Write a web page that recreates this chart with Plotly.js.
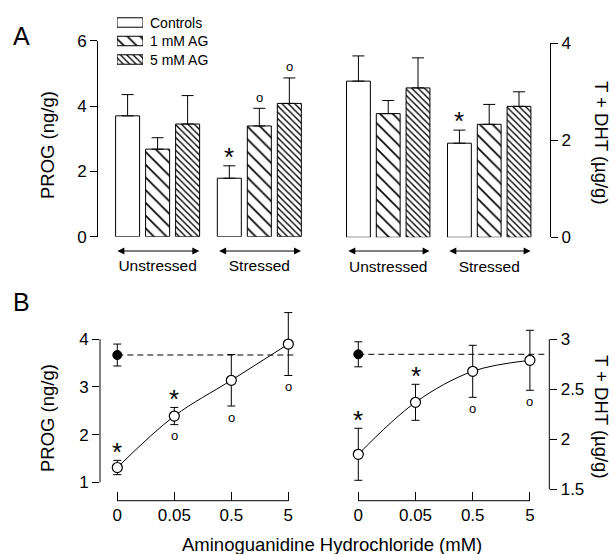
<!DOCTYPE html>
<html><head><meta charset="utf-8">
<script src="https://cdn.plot.ly/plotly-3.0.1.min.js"></script>
<style>html,body{margin:0;padding:0;background:#fff}#chart{width:614px;height:554px}</style>
</head><body><div id="chart"></div>
<script>
// ---------- data ----------
const groups = ['Unstressed', 'Stressed'];
const treatments = ['Controls', '1 mM AG', '5 mM AG'];

// Panel A, PROG (ng/g)
const progControls = [3.70, 1.79];
const progControlsSem = [0.65, 0.38];
const progAG1 = [2.68, 3.39];
const progAG1Sem = [0.35, 0.54];
const progAG5 = [3.45, 4.08];
const progAG5Sem = [0.87, 0.78];

// Panel A, T + DHT (µg/g)
const tdhtControls = [3.22, 1.94];
const tdhtControlsSem = [0.52, 0.27];
const tdhtAG1 = [2.55, 2.33];
const tdhtAG1Sem = [0.27, 0.41];
const tdhtAG5 = [3.08, 2.70];
const tdhtAG5Sem = [0.62, 0.30];

// significance marks in A: [treatmentIndex, groupIndex]
const progStars = [[0, 1]];
const progCircles = [[1, 1], [2, 1]];
const tdhtStars = [[0, 1]];
const tdhtCircles = [];

// Panel B
const doseLabels = ['0', '0.05', '0.5', '5'];
const progDose = [1.31, 2.39, 3.14, 3.90];
const progDoseSem = [0.15, 0.18, 0.54, 0.66];
const progUnstressed = [3.67];
const progUnstressedSem = [0.23];
const tdhtDose = [1.85, 2.37, 2.68, 2.79];
const tdhtDoseSem = [0.26, 0.18, 0.26, 0.30];
const tdhtUnstressed = [2.85];
const tdhtUnstressedSem = [0.125];
const progDoseStars = [0, 1];
const progDoseCircles = [1, 2, 3];
const tdhtDoseStars = [0, 1];
const tdhtDoseCircles = [2, 3];

// ---------- helpers ----------
const W = 614, H = 554;
const px = v => v / W;
const py = v => 1 - v / H;
const FONT = 'Liberation Sans, Arial, sans-serif';
const BARGAP = 0.115;
const slot = (1 - BARGAP) / 3;

const patterns = [
  null,
  {shape: '\\', size: 9, solidity: 0.18, fgcolor: 'black', bgcolor: 'white', fillmode: 'replace'},
  {shape: '\\', size: 4.5, solidity: 0.3, fgcolor: 'black', bgcolor: 'white', fillmode: 'replace'}
];

function barTrace(name, vals, sem, ti, xa, ya) {
  const m = {color: 'white', line: {color: 'black', width: 1}};
  if (patterns[ti]) m.pattern = patterns[ti];
  return {
    type: 'bar', name: name, x: groups, y: vals, xaxis: xa, yaxis: ya,
    marker: m, showlegend: false, hoverinfo: 'skip',
    error_y: {type: 'data', symmetric: false, array: sem, arrayminus: sem.map(() => 0),
      color: 'black', thickness: 1, width: 6}
  };
}

const traces = [
  barTrace('Controls', progControls, progControlsSem, 0, 'x', 'y'),
  barTrace('1 mM AG', progAG1, progAG1Sem, 1, 'x', 'y'),
  barTrace('5 mM AG', progAG5, progAG5Sem, 2, 'x', 'y'),
  barTrace('Controls', tdhtControls, tdhtControlsSem, 0, 'x2', 'y2'),
  barTrace('1 mM AG', tdhtAG1, tdhtAG1Sem, 1, 'x2', 'y2'),
  barTrace('5 mM AG', tdhtAG5, tdhtAG5Sem, 2, 'x2', 'y2')
];

// legend boxes as a tiny subplot
traces.push({
  type: 'bar', orientation: 'h', x: treatments.map(() => 1), y: treatments, base: 0,
  width: 0.51, xaxis: 'x5', yaxis: 'y5', showlegend: false, hoverinfo: 'skip', cliponaxis: false,
  marker: {color: 'white', line: {color: 'black', width: 1},
    pattern: {shape: ['', '\\', '\\'], size: [8, 9, 4.5], solidity: [0.2, 0.18, 0.3],
      fgcolor: 'black', bgcolor: 'white', fillmode: 'replace'}}
});

const doseX = doseLabels.map((d, i) => i);

function doseTraces(vals, sem, ctrl, ctrlSem, xa, ya) {
  return [
    {type: 'scatter', mode: 'lines+markers', x: doseX, y: vals, xaxis: xa, yaxis: ya,
      line: {shape: 'spline', smoothing: 1, color: 'black', width: 1},
      marker: {symbol: 'circle', size: 10, color: 'white', line: {color: 'black', width: 1.2}},
      error_y: {type: 'data', array: sem, color: 'black', thickness: 1, width: 4},
      showlegend: false, hoverinfo: 'skip', cliponaxis: false},
    {type: 'scatter', mode: 'markers', x: [0], y: ctrl, xaxis: xa, yaxis: ya,
      marker: {symbol: 'circle', size: 9, color: 'black', line: {color: 'black', width: 1}},
      error_y: {type: 'data', array: ctrlSem, color: 'black', thickness: 1, width: 4},
      showlegend: false, hoverinfo: 'skip', cliponaxis: false}
  ];
}
traces.push(...doseTraces(progDose, progDoseSem, progUnstressed, progUnstressedSem, 'x3', 'y3'));
traces.push(...doseTraces(tdhtDose, tdhtDoseSem, tdhtUnstressed, tdhtUnstressedSem, 'x4', 'y4'));

// ---------- annotations ----------
const ann = [];
const txt = (o) => Object.assign({showarrow: false, xanchor: 'center', yanchor: 'middle',
  font: {family: FONT, size: 17, color: 'black'}}, o);

ann.push(txt({text: 'A', xref: 'paper', yref: 'paper', x: px(21), y: py(36), font: {family: FONT, size: 25, color: 'black'}}));
ann.push(txt({text: 'B', xref: 'paper', yref: 'paper', x: px(21), y: py(302), font: {family: FONT, size: 25, color: 'black'}}));

ann.push(txt({text: 'PROG (ng/g)', xref: 'paper', yref: 'paper', x: px(48), y: py(145), textangle: -90, font: {family: FONT, size: 18.5, color: 'black'}}));
ann.push(txt({text: 'T + DHT (µg/g)', xref: 'paper', yref: 'paper', x: px(602), y: py(143), textangle: 90, font: {family: FONT, size: 18.5, color: 'black'}}));
ann.push(txt({text: 'PROG (ng/g)', xref: 'paper', yref: 'paper', x: px(47), y: py(418), textangle: -90, font: {family: FONT, size: 18.5, color: 'black'}}));
ann.push(txt({text: 'T + DHT (µg/g)', xref: 'paper', yref: 'paper', x: px(602), y: py(417), textangle: 90, font: {family: FONT, size: 18.5, color: 'black'}}));
ann.push(txt({text: 'Aminoguanidine Hydrochloride (mM)', xref: 'paper', yref: 'paper', x: px(332), y: py(544), font: {family: FONT, size: 18.5, color: 'black'}}));

// legend labels
treatments.forEach((t, i) => {
  ann.push(txt({text: t, xref: 'paper', yref: 'y5', x: px(148), y: t, xanchor: 'left', font: {family: FONT, size: 14, color: 'black'}}));
});

// group arrows under bars
['x', 'x2'].forEach((xa) => {
  groups.forEach((g, gi) => {
    ann.push({text: '', showarrow: true, xref: xa, yref: 'paper', x: gi + 0.41, y: py(251),
      axref: xa, ayref: 'pixel', ax: gi - 0.41, ay: 0, arrowside: 'end+start',
      arrowhead: 2, startarrowhead: 2, arrowsize: 1.4, startarrowsize: 1.4, arrowwidth: 1, arrowcolor: 'black'});
  });
});

// significance in A
const progSeries = [[progControls, progControlsSem], [progAG1, progAG1Sem], [progAG5, progAG5Sem]];
const tdhtSeries = [[tdhtControls, tdhtControlsSem], [tdhtAG1, tdhtAG1Sem], [tdhtAG5, tdhtAG5Sem]];
function sigA(series, stars, circles, xa, ya) {
  stars.forEach(([ti, gi]) => {
    ann.push(txt({text: '*', xref: xa, yref: ya, x: gi + (ti - 1) * slot, y: series[ti][0][gi] + series[ti][1][gi],
      yshift: 9, font: {family: FONT, size: 26, color: 'black'}}));
  });
  circles.forEach(([ti, gi]) => {
    ann.push(txt({text: 'o', xref: xa, yref: ya, x: gi + (ti - 1) * slot, y: series[ti][0][gi] + series[ti][1][gi],
      yshift: 11, font: {family: FONT, size: 13, color: 'black'}}));
  });
}
sigA(progSeries, progStars, progCircles, 'x', 'y');
sigA(tdhtSeries, tdhtStars, tdhtCircles, 'x2', 'y2');

function sigB(vals, sem, stars, circles, xa, ya) {
  stars.forEach(i => ann.push(txt({text: '*', xref: xa, yref: ya, x: i, y: vals[i] + sem[i],
    yshift: 8, font: {family: FONT, size: 26, color: 'black'}})));
  circles.forEach(i => ann.push(txt({text: 'o', xref: xa, yref: ya, x: i, y: vals[i] - sem[i],
    yshift: -11, font: {family: FONT, size: 13, color: 'black'}})));
}
sigB(progDose, progDoseSem, progDoseStars, progDoseCircles, 'x3', 'y3');
sigB(tdhtDose, tdhtDoseSem, tdhtDoseStars, tdhtDoseCircles, 'x4', 'y4');

// ---------- shapes (axis lines for B, reference lines) ----------
const shapes = [
  {type: 'line', xref: 'paper', yref: 'y3', x0: px(100), x1: px(100), y0: 1, y1: 4, line: {color: 'black', width: 1}},
  {type: 'line', xref: 'x3', yref: 'paper', x0: 0, x1: doseLabels.length - 1, y0: py(500.7), y1: py(500.7), line: {color: 'black', width: 1}},
  {type: 'line', xref: 'paper', yref: 'y4', x0: px(549.3), x1: px(549.3), y0: 1.5, y1: 3, line: {color: 'black', width: 1}},
  {type: 'line', xref: 'x4', yref: 'paper', x0: 0, x1: doseLabels.length - 1, y0: py(500.7), y1: py(500.7), line: {color: 'black', width: 1}},
  {type: 'line', xref: 'x3', yref: 'y3', x0: 0, x1: 3.13, y0: progUnstressed[0], y1: progUnstressed[0], layer: 'below', line: {color: 'black', width: 1, dash: '6px,4px'}},
  {type: 'line', xref: 'x4', yref: 'y4', x0: 0, x1: 3.32, y0: tdhtUnstressed[0], y1: tdhtUnstressed[0], layer: 'below', line: {color: 'black', width: 1, dash: '6px,4px'}}
];

// ---------- layout ----------
const tickFont = {family: FONT, size: 17, color: 'black'};
const yA = {showgrid: false, zeroline: false, showline: true, linecolor: 'black', linewidth: 1,
  ticks: 'outside', ticklen: 7, tickcolor: 'black', tickwidth: 1, tickfont: tickFont, fixedrange: true};
const xA = {type: 'category', showgrid: false, zeroline: false, showline: false, ticks: '',
  tickfont: {family: FONT, size: 15.5, color: 'black'}, ticklabelstandoff: 18};
const xB = {showgrid: false, zeroline: false, showline: false, ticks: 'inside', ticklen: 9, tickcolor: 'black',
  tickwidth: 1, tickvals: doseX, ticktext: doseLabels, tickfont: tickFont, ticklabelstandoff: 2};
const yB = {showgrid: false, zeroline: false, showline: false, ticks: 'outside', ticklen: 7, tickcolor: 'black',
  tickwidth: 1, tickfont: tickFont};

const layout = {
  width: W, height: H, margin: {l: 0, r: 0, t: 0, b: 0},
  paper_bgcolor: 'white', plot_bgcolor: 'rgba(0,0,0,0)',
  font: {family: FONT, color: 'black'},
  showlegend: false, barmode: 'group', bargap: BARGAP, bargroupgap: 0.2,
  xaxis: Object.assign({}, xA, {domain: [px(98), px(305)], range: [-0.586, 1.449], anchor: 'y'}),
  yaxis: Object.assign({}, yA, {domain: [py(236.7), py(40.7)], range: [0, 6], tickvals: [0, 2, 4, 6], anchor: 'x'}),
  xaxis2: Object.assign({}, xA, {domain: [px(335), px(550)], range: [-0.527, 1.602], anchor: 'y2'}),
  yaxis2: Object.assign({}, yA, {domain: [py(237.3), py(43.3)], range: [0, 4], tickvals: [0, 2, 4], side: 'right', anchor: 'x2'}),
  xaxis3: Object.assign({}, xB, {domain: [px(100), px(300)], range: [-0.3035, 3.205], anchor: 'y3'}),
  yaxis3: Object.assign({}, yB, {domain: [py(500.7), py(300)], range: [0.614, 4.824], tickvals: [1, 2, 3, 4], anchor: 'x3'}),
  xaxis4: Object.assign({}, xB, {domain: [px(345), px(549.3)], range: [-0.2325, 3.339], anchor: 'y4'}),
  yaxis4: Object.assign({}, yB, {domain: [py(500.7), py(300)], range: [1.386, 3.393], tickvals: [1.5, 2, 2.5, 3], side: 'right', anchor: 'x4'}),
  xaxis5: {domain: [px(117), px(143)], range: [0, 1], visible: false, anchor: 'y5'},
  yaxis5: {domain: [py(68.75), py(13.25)], type: 'category', range: [2.5, -0.5], visible: false, anchor: 'x5'},
  annotations: ann,
  shapes: shapes
};

Plotly.newPlot('chart', traces, layout, {staticPlot: true, displayModeBar: false});
</script>
</body></html>
